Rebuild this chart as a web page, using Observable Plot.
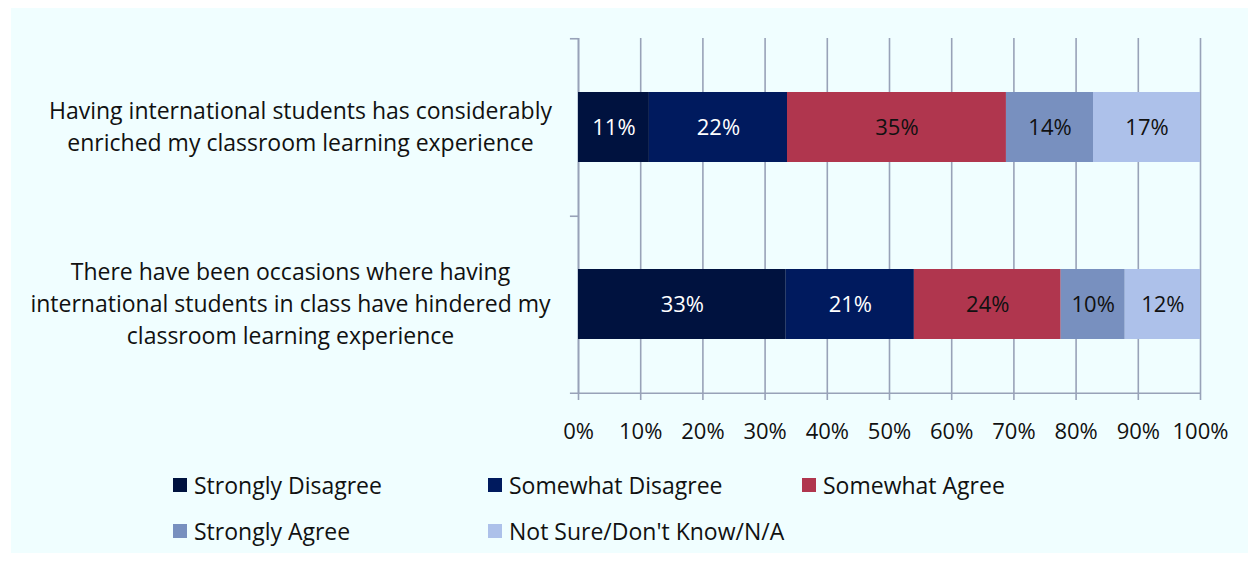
<!DOCTYPE html>
<html><head><meta charset="utf-8">
<script src="https://cdn.jsdelivr.net/npm/d3@7"></script>
<script src="https://cdn.jsdelivr.net/npm/@observablehq/plot@0.6"></script>
<style>
html,body{margin:0;padding:0;background:#fff;}
#wrap{position:relative;width:1257px;height:562px;overflow:hidden;font-family:"Open Sans",Lato,sans-serif;}
#bg{position:absolute;left:11px;top:8px;width:1237px;height:545px;background:#f0feff;}
#chart{position:absolute;left:0;top:0;}
#legend{position:absolute;left:0;top:455px;width:1257px;height:107px;}
.item{position:absolute;display:flex;align-items:center;font-size:23px;color:#111;white-space:nowrap;}
.sw{width:14px;height:14px;margin-right:7px;}
</style></head>
<body><div id="wrap"><div id="bg"></div><div id="chart"></div><div id="legend"></div></div>
<script>
const categories = [
  "Having international students has considerably\nenriched my classroom learning experience",
  "There have been occasions where having\ninternational students in class have hindered my\nclassroom learning experience"
];
const series = ["Strongly Disagree","Somewhat Disagree","Somewhat Agree","Strongly Agree","Not Sure/Don't Know/N/A"];
const colors = ["#00123f","#001a5e","#b0364e","#7890bf","#adc1ea"];
const labelColors = ["#ffffff","#ffffff","#111111","#111111","#111111"];
const valuesEnriched = [11.4, 22.2, 35.2, 14.0, 17.2];
const valuesHindered = [33.4, 20.6, 23.6, 10.3, 12.1];
const xTicks = [0,10,20,30,40,50,60,70,80,90,100];

const rows = [];
[valuesEnriched, valuesHindered].forEach((vals, i) => {
  vals.forEach((v, j) => rows.push({cat: categories[i], series: series[j], value: v, lc: labelColors[j]}));
});

const grid = "#98a2b8";
const half = 355/4; // half band step in px
const font = "'Open Sans', Lato, sans-serif";
const chart = Plot.plot({
  width: 1257, height: 455,
  marginLeft: 578, marginRight: 57, marginTop: 38, marginBottom: 62,
  style: {background: "transparent", fontFamily: font},
  x: {domain: [0, 100], ticks: xTicks, tickFormat: d => d + "%", label: null},
  y: {domain: categories, paddingInner: 0.606, paddingOuter: 0.303, label: null},
  color: {domain: series, range: colors},
  marks: [
    Plot.gridX(xTicks, {stroke: grid, strokeOpacity: 1, strokeWidth: 1.6}),
    Plot.ruleX([0], {stroke: grid, strokeWidth: 1.6}),
    Plot.ruleY([categories[1]], {x1: -1.3, x2: 100, dy: half, stroke: grid, strokeWidth: 1.6}),
    Plot.ruleY([categories[0]], {x1: -1.3, x2: 0, dy: -half, stroke: grid, strokeWidth: 1.6}),
    Plot.ruleY([categories[0]], {x1: -1.3, x2: 0, dy: half, stroke: grid, strokeWidth: 1.6}),
    Plot.barX(rows, Plot.stackX({x: "value", y: "cat", fill: "series", order: series})),
    Plot.text(rows, Plot.stackX({x: "value", y: "cat", z: "series", order: series, text: d => Math.round(d.value) + "%", fill: "lc", fontSize: 22})),
    Plot.axisX(xTicks, {tickSize: 7, tickPadding: 23, stroke: grid, strokeWidth: 1.6, fontSize: 22, fill: "#111", tickFormat: d => d + "%"}),
    Plot.axisY([categories[0]], {tickSize: 0, tickPadding: 0, textAnchor: "middle", dx: -278, dy: -3, fontSize: 23, fill: "#111", lineHeight: 1.39}),
    Plot.axisY([categories[1]], {tickSize: 0, tickPadding: 0, textAnchor: "middle", dx: -288, dy: -3, fontSize: 23, fill: "#111", lineHeight: 1.39})
  ]
});
document.getElementById("chart").appendChild(chart);

const legendPos = [[173, 31],[488, 31],[802, 31],[173, 77],[488, 77]];
const leg = document.getElementById("legend");
series.forEach((s, i) => {
  const d = document.createElement("div");
  d.className = "item";
  d.style.left = legendPos[i][0] + "px";
  d.style.top = (legendPos[i][1] - 16) + "px";
  d.style.height = "30px";
  d.innerHTML = `<span class="sw" style="background:${colors[i]}"></span><span>${s}</span>`;
  leg.appendChild(d);
});
</script></body></html>
